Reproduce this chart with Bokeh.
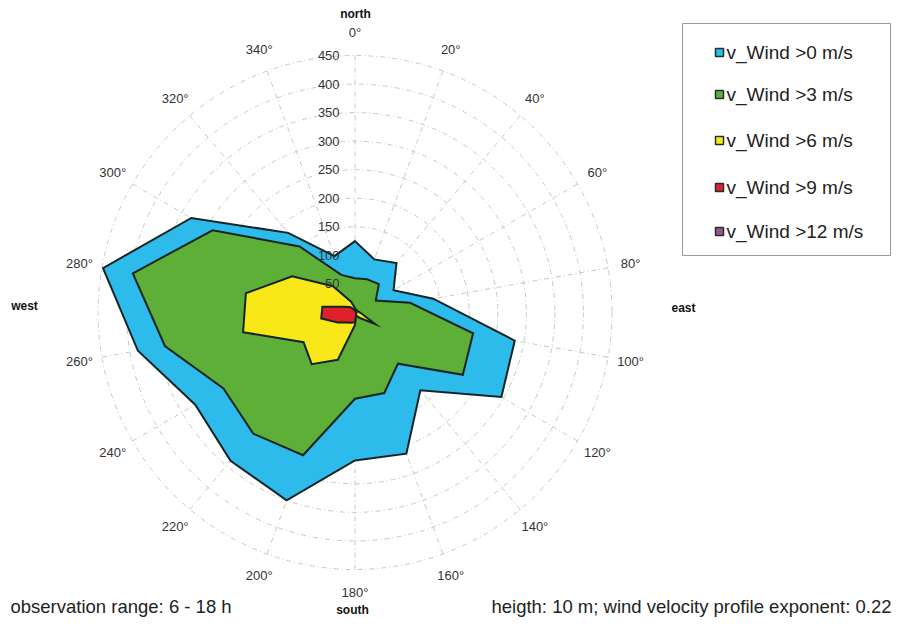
import numpy as np
from bokeh.plotting import figure
from bokeh.models import Range1d, Label
from bokeh.core.properties import value
from bokeh.embed import file_html
from bokeh.resources import INLINE

# ---------------- data ----------------
directions = [0, 20, 40, 60, 80, 100, 120, 140, 160, 180, 200, 220, 240, 260, 280, 300, 320, 340]
v_gt0 = [125, 99, 113, 78, 139, 284, 296, 178, 263, 259, 350, 339, 323, 386, 448, 331, 182, 105]
v_gt3 = [60, 62, 65, 42, 98, 210, 218, 117, 150, 151, 266, 277, 266, 338, 395, 288, 151, 70]
v_gt6 = [8, 5, 5, 5, 7, 12, 41, 12, 5, 22, 88, 118, 104, 199, 194, 127, 60, 20]
v_gt9 = [3, 2, 2, 2, 2, 3, 3, 3, 5, 17, 19, 23, 35, 60, 58, 20, 12, 6]
v_gt12 = [0, 0, 0, 0, 0, 0, 0, 0, 0, 0, 0, 0, 0, 0, 0, 0, 0, 0]
series_labels = ["v_Wind >0 m/s", "v_Wind >3 m/s", "v_Wind >6 m/s", "v_Wind >9 m/s", "v_Wind >12 m/s"]
series_colors = ["#2DBBEC", "#5EAF38", "#F8E81A", "#E0202A", "#A0508C"]
ring_values = [50, 100, 150, 200, 250, 300, 350, 400, 450]
angle_labels = [f"{d}\u00b0" for d in directions]
compass_labels = ["north", "east", "south", "west"]
footer_left = "observation range: 6 - 18 h"
footer_right = "heigth: 10 m; wind velocity profile exponent: 0.22"

# ---------------- layout helpers (reference pixel -> data) ----------------
W, H = 893, 617
CX, CY, K = 354.5, 312.0, 0.5711   # centre in picture px, px per unit


def ux(X):
    return (X - CX) / K


def uy(Y):
    return (CY - Y) / K


FONT = "Liberation Sans"

p = figure(width=W, height=H,
           x_range=Range1d(ux(0), ux(W)), y_range=Range1d(uy(H), uy(0)),
           x_axis_type=None, y_axis_type=None,
           output_backend="svg", toolbar_location=None, min_border=0)
p.grid.visible = False
p.outline_line_color = None
p.background_fill_color = "white"
p.border_fill_color = "white"

th = np.radians(directions)
rmax = ring_values[-1]

# grid: rings and spokes
p.circle(x=[0] * len(ring_values), y=[0] * len(ring_values), radius=ring_values,
         fill_color=None, line_color="#c8c8c8", line_width=1, line_dash="5 3 1 3")
p.segment(x0=np.zeros(len(th)), y0=np.zeros(len(th)),
          x1=rmax * np.sin(th), y1=rmax * np.cos(th),
          line_color="#c8c8c8", line_width=1, line_dash="5 3 1 3")

# wind rose polygons
for vals, col in zip([v_gt0, v_gt3, v_gt6, v_gt9, v_gt12], series_colors):
    v = np.array(vals, dtype=float)
    xs = v * np.sin(th)
    ys = v * np.cos(th)
    p.patch(x=xs, y=ys, fill_color=col, line_color="#142424", line_width=2,
            line_join="miter")

# radial tick labels
p.text(x=[-27] * len(ring_values), y=ring_values, text=[str(r) for r in ring_values],
       text_align="right", text_baseline="middle", text_color="#333333",
       text_font=value(FONT), text_font_size=value("13px"))

# angle labels
rl = 490
p.text(x=rl * np.sin(th), y=rl * np.cos(th), text=angle_labels,
       text_align="center", text_baseline="middle", text_color="#333333",
       text_font=value(FONT), text_font_size=value("13px"))

# compass labels
for lab, (X, Y) in zip(compass_labels, [(355, 13), (683, 307), (352, 609), (24, 305)]):
    p.add_layout(Label(x=ux(X), y=uy(Y), text=lab, text_align="center",
                       text_baseline="middle", text_font=FONT, text_font_size="12px",
                       text_font_style="bold", text_color="#111111"))

# legend (drawn manually)
p.quad(left=ux(682), right=ux(890), top=uy(23), bottom=uy(255),
       fill_color="white", line_color="#9a9a9a", line_width=1)
rows_y = [52, 94, 140, 187, 231]
p.rect(x=[ux(719)] * 5, y=[uy(y) for y in rows_y], width=8 / K, height=8 / K,
       fill_color=series_colors, line_color="#203030", line_width=1.5)
p.text(x=[ux(726)] * 5, y=[uy(y) for y in rows_y], text=series_labels,
       text_align="left", text_baseline="middle", text_color="#222222",
       text_font=value(FONT), text_font_size=value("19px"))

# footers
p.add_layout(Label(x=ux(10), y=uy(606), text=footer_left, text_align="left",
                   text_baseline="middle", text_font=FONT, text_font_size="18.5px",
                   text_color="#222222"))
p.add_layout(Label(x=ux(891), y=uy(606), text=footer_right, text_align="right",
                   text_baseline="middle", text_font=FONT, text_font_size="18.5px",
                   text_color="#222222"))

open("out.html", "w").write(file_html(p, INLINE))
